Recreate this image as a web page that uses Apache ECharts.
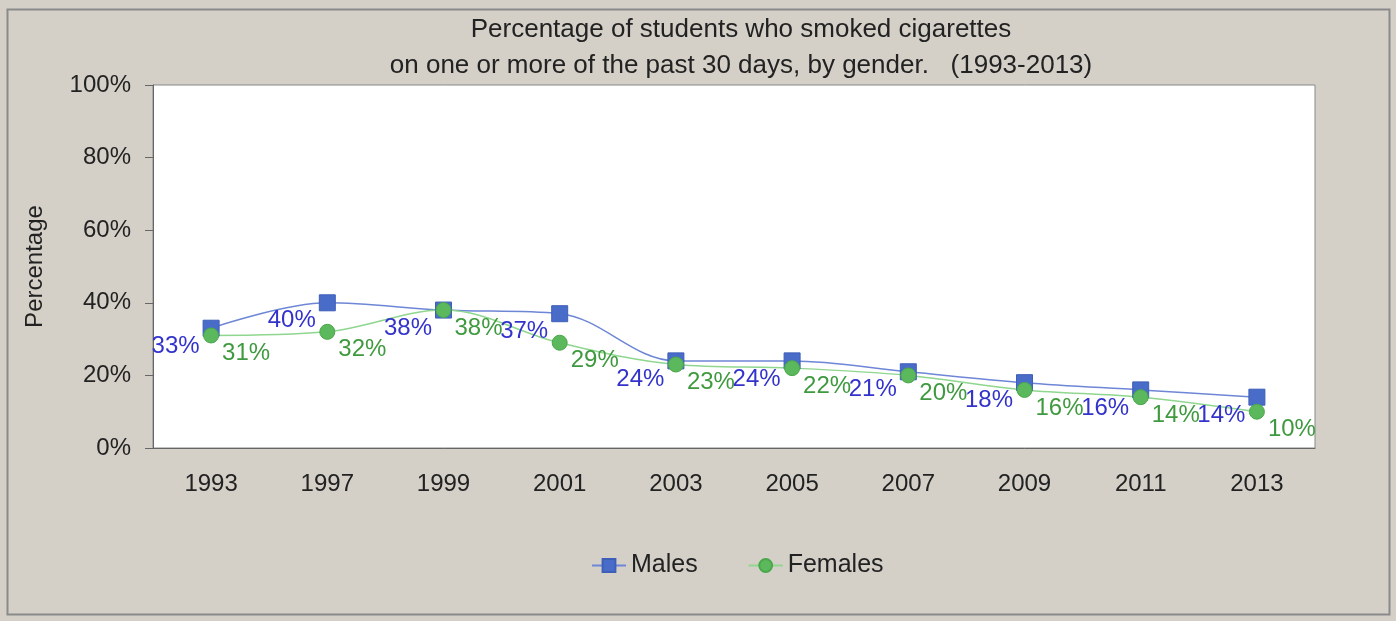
<!DOCTYPE html>
<html>
<head>
<meta charset="utf-8">
<script src="https://cdn.jsdelivr.net/npm/echarts@6/dist/echarts.min.js"></script>
<style>
html,body{margin:0;padding:0;background:#d4d0c8;}
#chart{width:1396px;height:621px;}
</style>
</head>
<body>
<div id="chart"></div>
<script>
const years = ['1993','1997','1999','2001','2003','2005','2007','2009','2011','2013'];
const males = [33, 40, 38, 37, 24, 24, 21, 18, 16, 14];
const females = [31, 32, 38, 29, 23, 22, 20, 16, 14, 10];
const yTicks = [0, 20, 40, 60, 80, 100];

const FONT = '"Liberation Sans", Arial, sans-serif';
const chart = echarts.init(document.getElementById('chart'));
chart.setOption({
  backgroundColor: '#d4d0c8',
  animation: false,
  textStyle: { fontFamily: FONT },
  title: {
    text: 'Percentage of students who smoked cigarettes\non one or more of the past 30 days, by gender.   (1993-2013)',
    left: 736, top: 7, textAlign: 'center',
    textStyle: { fontSize: 26, fontWeight: 'normal', color: '#222', lineHeight: 36, fontFamily: FONT }
  },
  graphic: [{
    type: 'rect', left: 5, top: 7, shape: { width: 1382, height: 605 },
    style: { fill: 'none', stroke: '#8a8a8a', lineWidth: 2 }, silent: true, z: -1
  }],
  legend: {
    bottom: 38, left: 586, itemWidth: 34, itemHeight: 16, itemGap: 50,
    textStyle: { fontSize: 25, color: '#222', fontFamily: FONT },
    data: ['Males', 'Females']
  },
  grid: {
    left: 153, right: 81, top: 85, bottom: 173,
    show: true, backgroundColor: '#ffffff', borderColor: '#888', borderWidth: 1
  },
  xAxis: {
    type: 'category', data: years, boundaryGap: true,
    axisLine: { lineStyle: { color: '#666' } },
    axisTick: { alignWithLabel: true, length: 12, lineStyle: { color: '#666' } },
    axisLabel: { fontSize: 24, color: '#222', margin: 24, fontFamily: FONT },
    splitLine: { show: false }
  },
  yAxis: {
    type: 'value', min: 0, max: 100, interval: 20,
    name: 'Percentage', nameLocation: 'middle', nameGap: 106, nameRotate: 90,
    nameTextStyle: { fontSize: 24, color: '#222', fontFamily: FONT },
    axisLine: { show: true, lineStyle: { color: '#666' } },
    axisTick: { show: true, length: 8, lineStyle: { color: '#666' } },
    axisLabel: { fontSize: 24, color: '#222', margin: 22, formatter: v => yTicks.includes(v) ? v + '%' : '', fontFamily: FONT },
    splitLine: { show: false }
  },
  series: [{
    name: 'Males', type: 'line', data: males, smooth: 0.35,
    symbol: 'rect', symbolSize: 16,
    itemStyle: { color: '#4a6cc9', borderColor: '#3d5fb8', borderWidth: 1 },
    lineStyle: { color: '#6e86d6', width: 1.5 },
    label: { show: true, position: 'left', distance: 3, offset: [0, 18], formatter: '{c}%', fontSize: 24, color: '#3333cc', fontFamily: FONT }
  }, {
    name: 'Females', type: 'line', data: females, smooth: 0.35,
    symbol: 'circle', symbolSize: 15,
    itemStyle: { color: '#5cb85c', borderColor: '#4aa84a', borderWidth: 1 },
    lineStyle: { color: '#8fd68f', width: 1.5 },
    label: { show: true, position: 'right', distance: 3, offset: [0, 18], formatter: '{c}%', fontSize: 24, color: '#3f9a3f', fontFamily: FONT }
  }]
});
</script>
</body>
</html>
